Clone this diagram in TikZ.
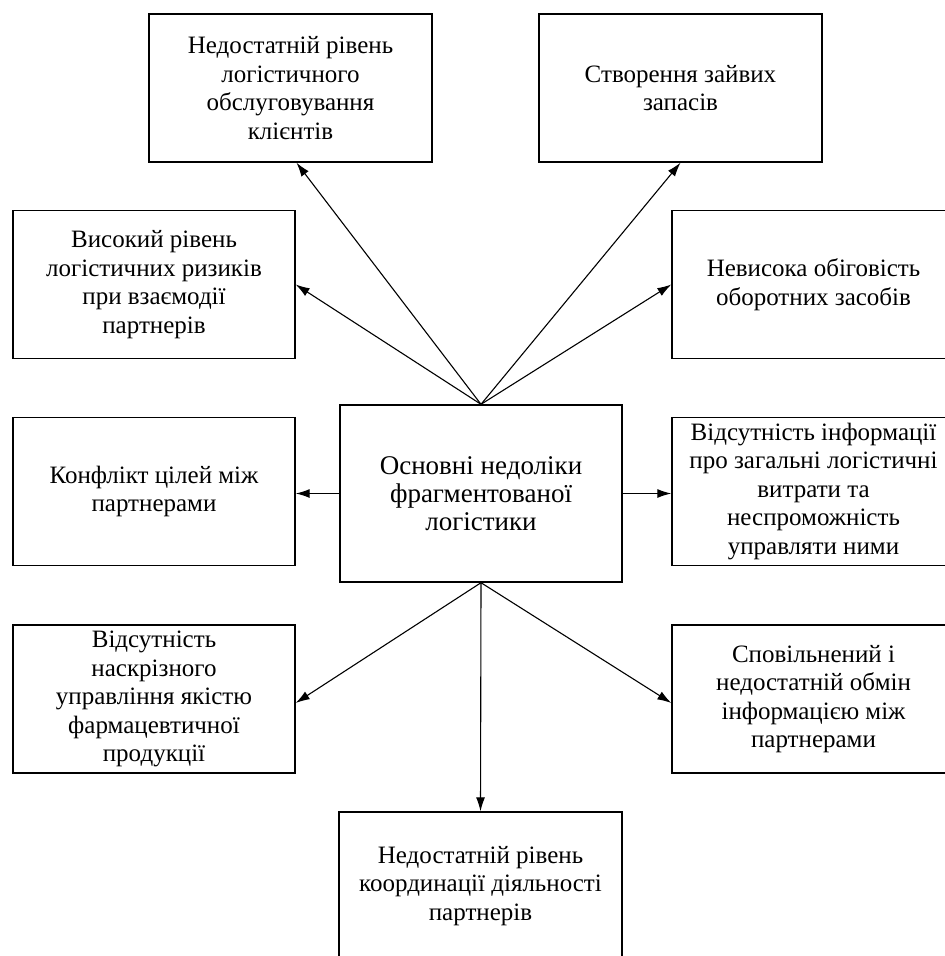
\documentclass[tikz,border=0pt]{standalone}
\usepackage{fontspec}
\setmainfont{Liberation Serif}
\usetikzlibrary{arrows.meta}
\begin{document}
\begin{tikzpicture}[x=1pt,y=-1pt,
  kasten/.style={rectangle, draw=black, line width=1.4pt, minimum width=283pt, minimum height=148pt, align=center, font=\fontsize{25}{28.5}\selectfont, inner sep=4pt},
  pfeil/.style={line width=1.1pt, -{Latex[length=14pt,width=9pt]}}]
\useasboundingbox (0,0) rectangle (945,956);
\clip (0,0) rectangle (945,956);
% Mitte
\node[kasten, minimum width=282pt, minimum height=177pt, font=\fontsize{27}{28}\selectfont](z) at (481,493.5) {Основні недоліки\\фрагментованої\\логістики};
% oben
\node[kasten](a) at (290.5,88) {Недостатній рівень\\логістичного\\обслуговування\\клієнтів};
\node[kasten](b) at (680.5,88) {Створення зайвих\\запасів};
% links
\node[kasten, minimum width=282pt](c) at (154,284.5) {Високий рівень\\логістичних ризиків\\при взаємодії\\партнерів};
\node[kasten, minimum width=282pt](e) at (154,491.5) {Конфлікт цілей між\\партнерами};
\node[kasten, minimum width=282pt](f) at (154,699) {Відсутність\\наскрізного\\управління якістю\\фармацевтичної\\продукції};
% rechts
\node[kasten](d) at (813.5,284.5) {Невисока обіговість\\оборотних засобів};
\node[kasten](h) at (813.5,491.5) {Відсутність інформації\\про загальні логістичні\\витрати та\\неспроможність\\управляти ними};
\node[kasten](k) at (813.5,699) {Сповільнений і\\недостатній обмін\\інформацією між\\партнерами};
% unten
\node[kasten](g) at (480.5,886) {Недостатній рівень\\координації діяльності\\партнерів};
% Pfeile
\draw[pfeil] (z.north) -- ([xshift=6pt]a.south);
\draw[pfeil] (z.north) -- (b.south);
\draw[pfeil] (z.north) -- (c.east);
\draw[pfeil] (z.north) -- (d.west);
\draw[pfeil] (z.west) -- (z.west -| e.east);
\draw[pfeil] (z.east) -- (z.east -| h.west);
\draw[pfeil] (z.south) -- ([yshift=-4pt]f.east);
\draw[pfeil] (z.south) -- ([yshift=-4pt]k.west);
\draw[pfeil] (z.south) -- (g.north);
\end{tikzpicture}
\end{document}
